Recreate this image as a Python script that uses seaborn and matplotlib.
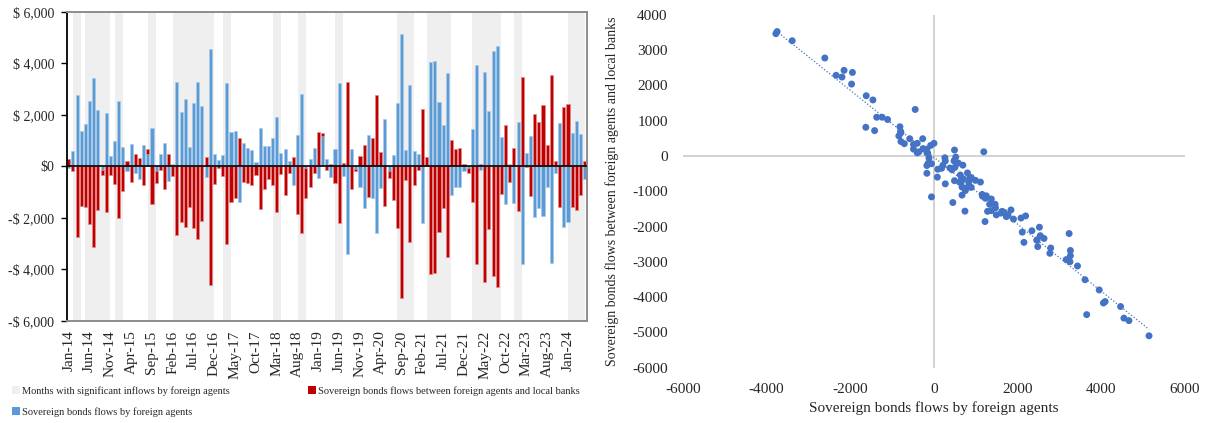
import numpy as np
import pandas as pd
import matplotlib
matplotlib.use("Agg")
import matplotlib.pyplot as plt
from matplotlib.patches import Patch
from matplotlib.ticker import FuncFormatter, MultipleLocator
import seaborn as sns

# Monthly sovereign bond flows (USD millions), Jan-2014 .. May-2024
months = pd.date_range("2014-01-01", periods=125, freq="MS")
month_labels = [d.strftime("%b-%y") for d in months]

foreign_flows = [
    -80, 580, 2770, 1370, 1630, 2540, 3430, 2190, -140, 2080,
    380, 990, 2520, 750, -170, 855, -270, -490, 830, 490,
    1470, -170, 490, 890, -580, 90, 3260, 2110, 2630, 740,
    2460, 3260, 2340, -400, 4540, 490, 260, 430, 3250, 1330,
    1370, -1370, 890, 700, 650, 180, 1490, 800, 800, 1110,
    1900, 500, 670, 210, -710, 1220, 2790, -60, 270, 690,
    -450, 1190, 270, -400, 660, 3230, -360, -3390, 670, -120,
    -790, -1630, 1230, -1240, -2610, -840, 1840, -170, 450, 2460,
    5140, 630, 3160, 610, 480, -2200, 0, 4050, 4090, 2480,
    1600, 3610, -1110, -790, -800, -170, -60, 1460, 3950, -150,
    3650, 2150, 4460, 4660, 1150, -1460, 80, -1420, 1730, -3780,
    520, 1160, -1970, -1620, -1950, -815, -3750, -260, 1680, -2340,
    -2150, 1280, 1770, 1250, -490,
]

bank_flows = [
    300, -200, -2760, -1550, -1570, -2260, -3120, -1700, -210, -1760,
    -340, -690, -2020, -980, 195, -620, 490, 325, -740, 170,
    -1470, -490, -130, -890, 490, -375, -2680, -2160, -2340, -1565,
    -2390, -2830, -2120, 360, -4600, -700, -50, -390, -3000, -1370,
    -1220, 1100, -610, -650, -740, -350, -1670, -890, -480, -740,
    -1790, -320, -1110, -270, 350, -1860, -2610, -1160, -790, -260,
    1320, 120, -140, 90, -660, -2200, 120, 3270, -880, -60,
    410, 815, -1200, 1100, 2780, 570, -1530, -270, -1320, -2380,
    -5100, -540, -2940, -740, -140, 2240, 360, -4170, -4130, -2570,
    -1620, -3510, 1035, 660, 700, 90, -220, -1370, -3800, 80,
    -4500, -2450, -4270, -4670, -1090, 1590, -600, 720, -1720, 3470,
    -30, -1140, 2040, 1710, 2370, 830, 3530, 210, -1600, 2290,
    2430, -1570, -1680, -1130, 195,
]

# 1 = month with significant inflows by foreign agents
inflow_months = [
    0, 1, 1, 0, 1, 1, 1, 1, 1, 1,
    0, 1, 1, 0, 0, 0, 0, 0, 0, 1,
    1, 0, 0, 0, 0, 1, 1, 1, 1, 1,
    1, 1, 1, 1, 1, 0, 0, 1, 1, 0,
    0, 0, 0, 0, 0, 0, 0, 0, 0, 1,
    1, 0, 0, 0, 0, 1, 1, 0, 0, 0,
    0, 0, 0, 0, 1, 1, 0, 0, 0, 0,
    0, 0, 0, 0, 0, 0, 0, 0, 0, 1,
    1, 1, 1, 0, 0, 0, 1, 1, 1, 1,
    1, 1, 0, 0, 0, 0, 0, 1, 1, 1,
    1, 1, 1, 1, 0, 0, 0, 1, 1, 0,
    0, 0, 0, 0, 0, 0, 0, 0, 0, 0,
    1, 1, 1, 1, 0,
]

LABEL_SHADE = "Months with significant inflows by foreign agents"
LABEL_BANKS = "Sovereign bonds flows between foreign agents and local banks"
LABEL_FOREIGN = "Sovereign bonds flows by foreign agents"

sns.set_theme(style="white")
plt.rcParams["font.family"] = ["Liberation Serif", "DejaVu Serif"]
plt.rcParams["axes.unicode_minus"] = False

BLUE = "#5B9BD5"
RED = "#C00000"
SHADE = "#EFEFEF"
DOT = "#4472C4"

W, H = 1214, 423
fig = plt.figure(figsize=(W / 100, H / 100), dpi=100)

# ---------------- left: monthly flows as stacked columns ----------------
ax = fig.add_axes([66.7 / W, 1 - 320.8 / H, 520 / W, 309.1 / H])
blue = np.asarray(foreign_flows, dtype=float)
red = np.asarray(bank_flows, dtype=float)
x = np.arange(len(months))

# shaded months, merged into contiguous runs
flags = np.asarray(inflow_months)
i = 0
while i < len(flags):
    if flags[i]:
        j = i
        while j + 1 < len(flags) and flags[j + 1]:
            j += 1
        ax.axvspan(i, j + 1, color=SHADE, lw=0, zorder=0)
        i = j + 1
    else:
        i += 1

red_base = np.where(np.sign(red) == np.sign(blue), blue, 0.0)
ax.bar(x, blue, width=0.74, color=BLUE, edgecolor="#A9CBEA", linewidth=0.5, zorder=2)
ax.bar(x, red, bottom=red_base, width=0.74, color=RED, edgecolor="#E08A8A",
       linewidth=0.5, zorder=2)
ax.axhline(0, color="black", lw=1.2, zorder=3)

ax.set_xlim(-0.5, len(months) - 0.5)
ax.set_ylim(-6000, 6000)
ax.set_xticks(x[::5])
ax.set_xticklabels(month_labels[::5], rotation=90, fontsize=11)
ax.yaxis.set_major_locator(MultipleLocator(2000))


def dollar(v, _pos):
    if v == 0:
        return "$0"
    sign = "-" if v < 0 else ""
    return f"{sign}$ {abs(v):,.0f}"


ax.yaxis.set_major_formatter(FuncFormatter(dollar))
ax.tick_params(axis="y", left=True, length=4, width=1, color="black",
               direction="out", pad=5, labelsize=10)
ax.tick_params(axis="x", bottom=False, length=0, pad=7)
ax.grid(False)
for side in ("top", "bottom", "right"):
    ax.spines[side].set_color("#8C8C8C")
    ax.spines[side].set_linewidth(1.4)
ax.spines["left"].set_color("black")
ax.spines["left"].set_linewidth(1.3)

h_shade = Patch(facecolor=SHADE, edgecolor="none")
h_blue = Patch(facecolor=BLUE, edgecolor="none")
h_red = Patch(facecolor=RED, edgecolor="none")
leg_kw = dict(loc="upper left", frameon=False, fontsize=7.5, handlelength=0.75,
              handleheight=0.75, handletextpad=0.25, labelspacing=1.1,
              borderaxespad=0, borderpad=0)
fig.legend([h_shade, h_blue], [LABEL_SHADE, LABEL_FOREIGN],
           bbox_to_anchor=(12 / W, 1 - 386 / H), **leg_kw)
fig.legend([h_red], [LABEL_BANKS], bbox_to_anchor=(308 / W, 1 - 386 / H), **leg_kw)

# ---------------- right: foreign flows vs. flows with local banks ----------------
ax2 = fig.add_axes([683 / W, 1 - 367.5 / H, 502 / W, 352.5 / H])
df = pd.DataFrame({"foreign": blue, "banks": red})
ax2.axhline(0, color="#C9C9C9", lw=1.2, zorder=0)
ax2.axvline(0, color="#C9C9C9", lw=1.2, zorder=0)
sns.regplot(data=df, x="foreign", y="banks", scatter=False, ci=None, truncate=True,
            color=DOT, line_kws=dict(ls=(0, (1, 1.6)), lw=0.9, zorder=2), ax=ax2)
sns.scatterplot(data=df, x="foreign", y="banks", color=DOT, s=25, edgecolor="none",
                ax=ax2, zorder=3)
ax2.set_xlim(-6000, 6000)
ax2.set_ylim(-6000, 4000)
ax2.set_xticks(np.arange(-6000, 6001, 2000))
ax2.set_yticks(np.arange(-6000, 4001, 1000))
ax2.tick_params(length=0, labelsize=11, pad=11)
for side in ax2.spines.values():
    side.set_visible(False)
ax2.grid(False)
ax2.set_xlabel(LABEL_FOREIGN, fontsize=11)
ax2.set_ylabel(LABEL_BANKS, fontsize=10)
ax2.xaxis.set_label_coords(0.5, -0.095)
ax2.yaxis.set_label_coords(-0.127, 0.5)

fig.savefig("out.png", dpi=100)
